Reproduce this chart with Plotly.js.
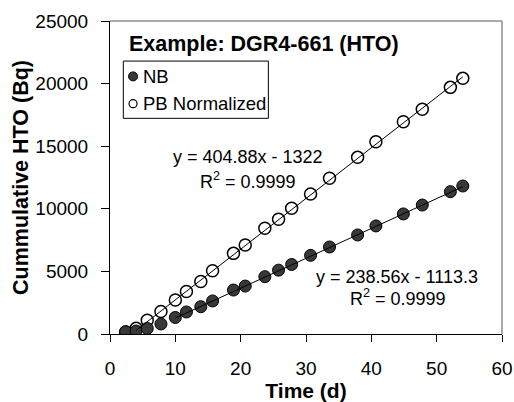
<!DOCTYPE html>
<html>
<head>
<meta charset="utf-8">
<script src="https://cdn.plot.ly/plotly-3.0.1.min.js"></script>
<style>html,body{margin:0;padding:0;background:#fff;}#chart{width:514px;height:402px;}</style>
</head>
<body>
<div id="chart"></div>
<script>
// ---- data ----
const days = [2.4, 4.0, 5.7, 7.8, 10.0, 11.7, 13.9, 15.7, 18.9, 20.7, 23.7, 25.8, 27.8, 30.7, 33.6, 37.9, 40.7, 44.9, 47.8, 52.1, 54.0];
const nbHTO = [180, 240, 440, 800, 1320, 1760, 2180, 2640, 3510, 3830, 4580, 5100, 5550, 6280, 6950, 7910, 8630, 9590, 10300, 11370, 11820];
const pbHTO = [150, 450, 1100, 1800, 2720, 3390, 4200, 5050, 6440, 7110, 8440, 9160, 10040, 11180, 12440, 14110, 15360, 16950, 17950, 19700, 20420];
const seriesNames = ["NB", "PB Normalized"];
// linear fits: [slope, intercept], and x range of each trendline
const nbFit = [238.56, -1113.3];
const pbFit = [404.88, -1322];
const nbFitRange = [10.0, 54.0];
const pbFitRange = [4.0, 54.0];
const nbEqText = ["y = 238.56x - 1113.3", "R<sup>2</sup> = 0.9999"];
const pbEqText = ["y = 404.88x - 1322", "R<sup>2</sup> = 0.9999"];
const xTicks = [0, 10, 20, 30, 40, 50, 60];
const yTicks = [0, 5000, 10000, 15000, 20000, 25000];
const titleText = "Example: DGR4-661 (HTO)";
const xTitle = "Time (d)";
const yTitle = "Cummulative HTO (Bq)";

const FONT = "Liberation Sans, Arial, sans-serif";
function fitLine(fit, range) {
  return {x: range.slice(), y: range.map(v => fit[0] * v + fit[1])};
}
const nbLine = fitLine(nbFit, nbFitRange);
const pbLine = fitLine(pbFit, pbFitRange);

const traces = [
  {x: days, y: pbHTO, type: "scatter", mode: "markers", name: seriesNames[1], showlegend: false,
   marker: {symbol: "circle", size: 12, color: "#ffffff", line: {color: "#000000", width: 1.5}}},
  {x: days, y: nbHTO, type: "scatter", mode: "markers", name: seriesNames[0], showlegend: false,
   marker: {symbol: "circle", size: 12, color: "#383838", line: {color: "#000000", width: 1}}},
  {x: pbLine.x, y: pbLine.y, type: "scatter", mode: "lines", showlegend: false, hoverinfo: "skip",
   line: {color: "#000000", width: 1}},
  {x: nbLine.x, y: nbLine.y, type: "scatter", mode: "lines", showlegend: false, hoverinfo: "skip",
   line: {color: "#000000", width: 1}}
];

// legend box drawn manually (Excel-like compact legend)
const lgX0 = 0.034, lgX1 = 0.404, lgY0 = 0.689, lgY1 = 0.872;
const lgMarkX = 0.0588, lgTextX = 0.080;
const lgRowY = [0.823, 0.736];

const shapes = [
  {type: "line", xref: "paper", yref: "paper", x0: 0, x1: 1, y0: 1, y1: 1, line: {color: "#8f8f8f", width: 1.5}},
  {type: "line", xref: "paper", yref: "paper", x0: 1, x1: 1, y0: 0, y1: 1, line: {color: "#8f8f8f", width: 1.5}},
  {type: "rect", xref: "paper", yref: "paper", x0: lgX0, x1: lgX1, y0: lgY0, y1: lgY1, line: {color: "#000000", width: 1}, fillcolor: "rgba(255,255,255,0)"},
  {type: "circle", xref: "paper", yref: "paper", xsizemode: "pixel", ysizemode: "pixel",
   xanchor: lgMarkX, yanchor: lgRowY[0], x0: -4.5, x1: 4.5, y0: -4.5, y1: 4.5,
   fillcolor: "#383838", line: {color: "#000000", width: 1}},
  {type: "circle", xref: "paper", yref: "paper", xsizemode: "pixel", ysizemode: "pixel",
   xanchor: lgMarkX, yanchor: lgRowY[1], x0: -4, x1: 4, y0: -4, y1: 4,
   fillcolor: "#ffffff", line: {color: "#000000", width: 1.2}}
];

const annFont = {family: FONT, size: 18, color: "#000000"};
const annotations = [
  {xref: "paper", yref: "paper", x: lgTextX, y: lgRowY[0], xanchor: "left", yanchor: "middle", text: seriesNames[0], showarrow: false, font: {family: FONT, size: 18.5, color: "#000"}},
  {xref: "paper", yref: "paper", x: lgTextX, y: lgRowY[1], xanchor: "left", yanchor: "middle", text: seriesNames[1], showarrow: false, font: {family: FONT, size: 18.5, color: "#000"}},
  {xref: "x", yref: "y", x: 21.05, y: 14100, xanchor: "center", yanchor: "middle", text: pbEqText[0], showarrow: false, font: annFont},
  {xref: "x", yref: "y", x: 21.05, y: 12250, xanchor: "center", yanchor: "middle", text: pbEqText[1], showarrow: false, font: annFont},
  {xref: "x", yref: "y", x: 44.0, y: 4520, xanchor: "center", yanchor: "middle", text: nbEqText[0], showarrow: false, font: annFont},
  {xref: "x", yref: "y", x: 44.1, y: 2900, xanchor: "center", yanchor: "middle", text: nbEqText[1], showarrow: false, font: annFont}
];

const layout = {
  width: 514, height: 402,
  margin: {l: 110, r: 12, t: 21, b: 68, pad: 0},
  paper_bgcolor: "#ffffff", plot_bgcolor: "#ffffff",
  showlegend: false,
  title: {text: "<b>" + titleText + "</b>", font: {family: FONT, size: 21.5, color: "#000"},
          xref: "container", yref: "container", x: 129 / 514, xanchor: "left", y: 1 - 43 / 402, yanchor: "middle"},
  xaxis: {
    range: [0, 60], tickvals: xTicks, ticktext: xTicks.map(String),
    showgrid: false, zeroline: false, showline: true, linecolor: "#000", linewidth: 1,
    ticks: "outside", ticklen: 7, tickcolor: "#000", tickwidth: 1,
    tickfont: {family: FONT, size: 19, color: "#000"}, ticklabelstandoff: 10,
    title: {text: "<b>" + xTitle + "</b>", font: {family: FONT, size: 21, color: "#000"}, standoff: 4},
    automargin: false
  },
  yaxis: {
    range: [0, 25000], tickvals: yTicks, ticktext: yTicks.map(String),
    showgrid: false, zeroline: false, showline: true, linecolor: "#000", linewidth: 1,
    ticks: "outside", ticklen: 8, tickcolor: "#000", tickwidth: 1,
    tickfont: {family: FONT, size: 19, color: "#000"}, ticklabelstandoff: 9,
    title: {text: "<b>" + yTitle + "</b>", font: {family: FONT, size: 21.5, color: "#000"}, standoff: 0},
    automargin: false
  },
  shapes: shapes,
  annotations: annotations
};

Plotly.newPlot("chart", traces, layout, {staticPlot: true, displayModeBar: false});
</script>
</body>
</html>
